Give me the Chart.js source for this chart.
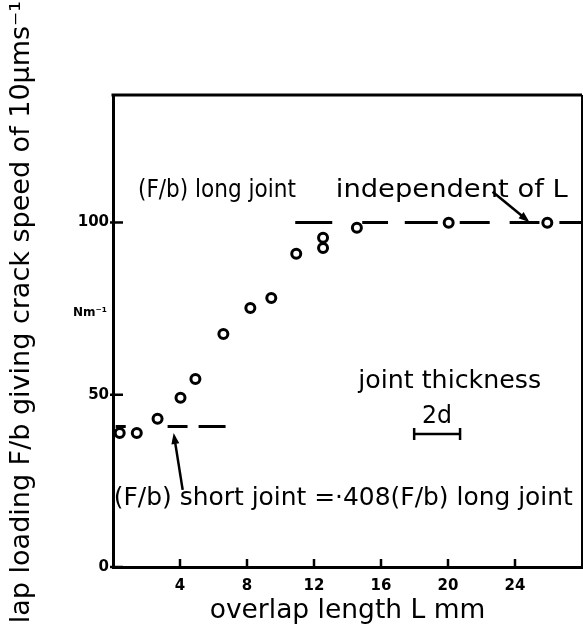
<!DOCTYPE html>
<html><head><meta charset="utf-8">
<script src="https://cdn.jsdelivr.net/npm/chart.js@4"></script>
<style>html,body{margin:0;padding:0;background:#fff;overflow:hidden}</style>
</head><body>
<canvas id="c" width="583" height="629"></canvas>
<script>
// ---- data ----
const overlapLength = [0.4, 1.42, 2.66, 4.03, 4.92, 6.59, 8.2, 9.45, 10.94, 12.54, 12.54, 14.56, 20.04, 25.93];
const lapLoading    = [38.9, 38.9, 43.0, 49.1, 54.6, 67.6, 75.2, 78.1, 90.9, 92.6, 95.6, 98.5, 99.9, 99.9];
const longJointLevel  = 100;
const longJointDashes = [[10.88, 13.09], [14.88, 16.42], [17.42, 19.39], [20.7, 22.49], [23.68, 25.46], [26.65, 28]];
const shortJointLevel  = 40.8;
const shortJointDashes = [[0.16, 0.76], [3.26, 4.45], [5.11, 6.72]];
const thicknessBarX = [17.98, 20.72];
const thicknessBarY = 38.6;
const xTicks = [4, 8, 12, 16, 20, 24];
const yTicks = [0, 50, 100];
const xRange = [0, 28];
const yRange = [0, 137];

// ---- texts / annotations (data coordinates) ----
const FONT = "'DejaVu Sans', sans-serif";
const yTitle = 'lap loading F/b giving crack speed of 10\u03bcms\u207b\u00b9';
const xTitle = 'overlap length L mm';
const notes = [
  {text: '(F/b) long joint', x: 1.49, y: 107.4, align: 'left', size: 24, w: 158},
  {text: 'independent of L', x: 13.3, y: 107.4, align: 'left', size: 24, w: 232},
  {text: 'joint thickness', x: 20.1, y: 52, align: 'center', size: 25, w: 183},
  {text: '2d', x: 19.34, y: 41.8, align: 'center', size: 25, w: 30},
  {text: '(F/b) short joint =\u00b7408(F/b) long joint', x: 13.75, y: 18, align: 'center', size: 25, w: 459},
  {text: 'Nm\u207b\u00b9', x: -1.37, y: 74.2, align: 'center', size: 12, weight: 'bold'}
];
const arrows = [
  {from: [22.66, 108.9], to: [24.87, 100.1]},
  {from: [4.16, 22.4], to: [3.62, 38.9]}
];

function segs(list, level) {
  const out = [];
  list.forEach(([a, b]) => { out.push({x: a, y: level}, {x: b, y: level}, {x: b, y: null}); });
  return out;
}

const decor = {
  id: 'decor',
  afterDraw(chart) {
    const {ctx, chartArea: a, scales: {x, y}} = chart;
    ctx.save();
    ctx.strokeStyle = '#000'; ctx.fillStyle = '#000'; ctx.lineCap = 'butt';
    const line = (x1, y1, x2, y2) => { ctx.beginPath(); ctx.moveTo(x1, y1); ctx.lineTo(x2, y2); ctx.stroke(); };
    // frame top + right
    ctx.lineWidth = 3; line(a.left - 1.5, a.top, a.right, a.top);
    ctx.lineWidth = 2; line(a.right, a.top, a.right, a.bottom);
    // inward ticks
    ctx.lineWidth = 2.5;
    xTicks.forEach(v => { const p = x.getPixelForValue(v); line(p, a.bottom, p, a.bottom - 8); });
    yTicks.forEach(v => { const p = y.getPixelForValue(v); line(a.left - 3, p, a.left + 10, p); });
    // arrows
    arrows.forEach(ar => {
      const x1 = x.getPixelForValue(ar.from[0]), y1 = y.getPixelForValue(ar.from[1]);
      const x2 = x.getPixelForValue(ar.to[0]), y2 = y.getPixelForValue(ar.to[1]);
      const ang = Math.atan2(y2 - y1, x2 - x1);
      const hl = 11, hw = 4;
      ctx.lineWidth = 2.5;
      line(x1, y1, x2 - hl * Math.cos(ang) * 0.8, y2 - hl * Math.sin(ang) * 0.8);
      ctx.beginPath();
      ctx.moveTo(x2, y2);
      ctx.lineTo(x2 - hl * Math.cos(ang) + hw * Math.sin(ang), y2 - hl * Math.sin(ang) - hw * Math.cos(ang));
      ctx.lineTo(x2 - hl * Math.cos(ang) - hw * Math.sin(ang), y2 - hl * Math.sin(ang) + hw * Math.cos(ang));
      ctx.closePath(); ctx.fill();
    });
    // notes (lightly fitted horizontally to the lettering width of the original)
    ctx.textBaseline = 'alphabetic';
    notes.forEach(n => {
      ctx.font = (n.weight || 'normal') + ' ' + n.size + 'px ' + FONT;
      ctx.textAlign = n.align;
      const px = x.getPixelForValue(n.x);
      const py = y.getPixelForValue(n.y) + (n.weight ? n.size * 0.35 : 0);
      const k = n.w ? n.w / ctx.measureText(n.text).width : 1;
      ctx.save();
      ctx.translate(px, py);
      ctx.scale(k, 1);
      ctx.fillText(n.text, 0, 0);
      ctx.restore();
    });
    // y-axis title
    ctx.save();
    ctx.translate(a.left - 91, (a.top + a.bottom) / 2 - 19);
    ctx.rotate(-Math.PI / 2);
    ctx.font = '27px ' + FONT;
    ctx.textAlign = 'center'; ctx.textBaseline = 'middle';
    ctx.fillText(yTitle, 0, 0);
    ctx.restore();
    ctx.restore();
  }
};

new Chart(document.getElementById('c'), {
  type: 'scatter',
  data: {
    datasets: [
      {label: 'long joint', data: segs(longJointDashes, longJointLevel), showLine: true, spanGaps: false,
       borderColor: '#000', borderWidth: 3, pointRadius: 0, order: 2},
      {label: 'short joint', data: segs(shortJointDashes, shortJointLevel), showLine: true, spanGaps: false,
       borderColor: '#000', borderWidth: 3, pointRadius: 0, order: 2},
      {label: 'thickness', data: thicknessBarX.map(v => ({x: v, y: thicknessBarY})), showLine: true,
       borderColor: '#000', borderWidth: 2.5, pointStyle: 'line', rotation: 90, pointRadius: 6,
       pointBorderWidth: 2.5, pointBorderColor: '#000', clip: false, order: 2},
      {label: 'F/b', data: overlapLength.map((v, i) => ({x: v, y: lapLoading[i]})), showLine: false,
       pointRadius: 4.5, pointBorderWidth: 3, pointBorderColor: '#000', pointBackgroundColor: '#fff', order: 1}
    ]
  },
  options: {
    responsive: false, animation: false, devicePixelRatio: 1,
    layout: {autoPadding: false, padding: {top: 95, right: 1, left: 0, bottom: 0}},
    plugins: {legend: {display: false}, tooltip: {enabled: false}},
    scales: {
      x: {
        type: 'linear', min: xRange[0], max: xRange[1],
        afterBuildTicks: s => { s.ticks = xTicks.map(v => ({value: v})); },
        afterFit: s => { s.height = 62; },
        grid: {display: false, drawTicks: false},
        border: {display: true, color: '#000', width: 3},
        ticks: {padding: 10, color: '#000', maxRotation: 0, autoSkip: false, font: {family: FONT, size: 15, weight: 'bold'}},
        title: {display: true, text: xTitle, color: '#000', font: {family: FONT, size: 26.5}, padding: {top: 0, bottom: 2}}
      },
      y: {
        type: 'linear', min: yRange[0], max: yRange[1],
        afterBuildTicks: s => { s.ticks = yTicks.map(v => ({value: v})); },
        afterFit: s => { s.width = 113; },
        grid: {display: false, drawTicks: false},
        border: {display: true, color: '#000', width: 3},
        ticks: {padding: 4, color: '#000', font: {family: FONT, size: 15, weight: 'bold'}}
      }
    }
  },
  plugins: [decor]
});
</script>
</body></html>
